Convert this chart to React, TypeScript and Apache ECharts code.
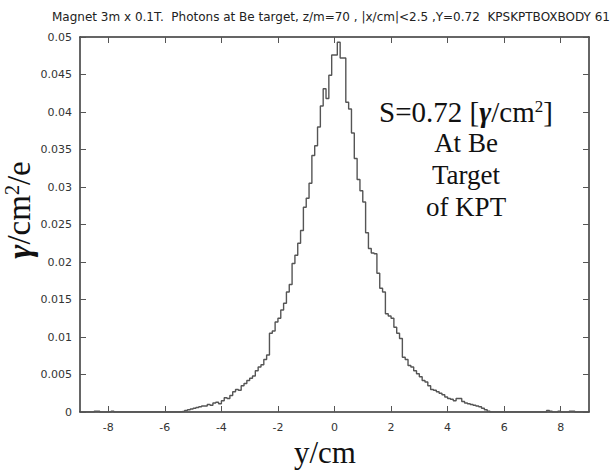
import React, { useEffect, useRef } from "react";
import * as echarts from "echarts";

// Histogram: bins of width 0.1 cm starting at y = -9.0 cm; values in units of 1e-4 photons/cm^2/e
const HIST_START = -9.0;
const HIST_WIDTH = 0.1;
const HIST_UNIT = 1e-4;
const histValues: number[] = [
  0, 0, 0, 0, 0, 1, 1, 0, 0, 0,
  0, 1, 0, 0, 0, 0, 0, 0, 0, 0,
  0, 0, 0, 0, 0, 0, 0, 0, 0, 0,
  0, 0, 0, 0, 0, 0.5, 1, 2, 3, 4,
  5, 6, 7, 8, 8, 10, 9, 12, 13, 11,
  15, 19, 18, 22, 27, 30, 29, 35, 38, 42,
  45, 48, 55, 60, 63, 70, 76, 105, 108, 120,
  125, 136, 145, 160, 170, 198, 209, 225, 242, 273,
  285, 305, 342, 355, 380, 408, 431, 418, 449, 476,
  476, 493, 472, 472, 413, 404, 372, 338, 310, 295,
  280, 239, 218, 212, 211, 185, 165, 160, 131, 128,
  125, 113, 105, 98, 73, 70, 62, 60, 55, 51,
  47, 42, 40, 35, 30, 29, 27, 25, 23, 20,
  18, 17, 15, 18, 18, 14, 12, 11, 10, 9,
  8, 7, 5, 3, 1, 0, 0, 0, 0, 0,
  0, 0, 0, 0, 0, 0, 0, 0, 0, 0,
  0, 0, 0, 0, 0, 2, 1, 0, 0, 1,
  0, 0, 0, 1, 1, 0, 0, 0, 0, 0,
];

const xTicks = [-8, -6, -4, -2, 0, 2, 4, 6, 8];
const X_MIN = -9;
const X_MAX = 9;
const Y_MIN = 0;
const Y_MAX = 0.05;
const Y_STEP = 0.005;

const TITLE =
  "Magnet 3m x 0.1T.  Photons at Be target, z/m=70 , |x/cm|<2.5 ,Y=0.72  KPSKPTBOXBODY 61";
const noteLines = ["At Be", "Target", "of KPT"];

export default function App() {
  const ref = useRef<HTMLDivElement>(null);

  useEffect(() => {
    document.body.style.margin = "0";
    if (!ref.current) return;
    const chart = echarts.init(ref.current, undefined, { renderer: "svg" });

    const data: number[][] = histValues.map((v, i) => [
      +(HIST_START + i * HIST_WIDTH).toFixed(2),
      v * HIST_UNIT,
    ]);
    data.push([X_MAX, histValues[histValues.length - 1] * HIST_UNIT]);

    const axisColor = "#333";
    const serif = "Liberation Serif";
    const sans = "DejaVu Sans";

    const xAxisBase = {
      type: "value",
      min: X_MIN,
      max: X_MAX,
      axisLine: { show: true, onZero: false, lineStyle: { color: axisColor, width: 1.5 } },
      axisTick: {
        show: true,
        inside: true,
        length: 6,
        customValues: xTicks,
        lineStyle: { color: "#555", width: 1 },
      },
      splitLine: { show: false },
    };
    const yAxisBase = {
      type: "value",
      min: Y_MIN,
      max: Y_MAX,
      interval: Y_STEP,
      axisLine: { show: true, onZero: false, lineStyle: { color: axisColor, width: 1.5 } },
      axisTick: { show: true, inside: true, length: 6, lineStyle: { color: "#555", width: 1 } },
      splitLine: { show: false },
    };

    const noteGraphics = noteLines.map((t, i) => ({
      type: "text",
      x: 466,
      y: 143 + i * 32,
      style: {
        text: t,
        font: `27px "${serif}"`,
        fill: "#111",
        align: "center",
        verticalAlign: "middle",
      },
    }));

    chart.setOption({
      animation: false,
      grid: { left: 80, right: 25, top: 37, bottom: 62 },
      xAxis: [
        {
          ...xAxisBase,
          position: "bottom",
          axisLabel: {
            customValues: xTicks,
            fontSize: 11,
            fontFamily: sans,
            color: "#333",
            margin: 10,
          },
        },
        { ...xAxisBase, position: "top", axisLabel: { show: false } },
      ],
      yAxis: [
        {
          ...yAxisBase,
          position: "left",
          axisLabel: { fontSize: 11, fontFamily: sans, color: "#333", margin: 8 },
        },
        { ...yAxisBase, position: "right", axisLabel: { show: false } },
      ],
      series: [
        {
          type: "line",
          step: "end",
          data,
          showSymbol: false,
          xAxisIndex: 0,
          yAxisIndex: 0,
          lineStyle: { color: "#555", width: 1.4 },
        },
      ],
      graphic: [
        {
          type: "text",
          x: 331,
          y: 17,
          style: {
            text: TITLE,
            font: `12px "${sans}"`,
            fill: "#222",
            align: "center",
            verticalAlign: "middle",
          },
        },
        {
          type: "text",
          x: 325,
          y: 452,
          style: {
            text: "y/cm",
            font: `31px "${serif}"`,
            fill: "#111",
            align: "center",
            verticalAlign: "middle",
          },
        },
        {
          type: "text",
          x: 19,
          y: 210,
          rotation: Math.PI / 2,
          style: {
            text: "{g|γ}{n|/cm}{s|2}{n|/e}",
            align: "center",
            verticalAlign: "middle",
            fill: "#111",
            rich: {
              g: { fontFamily: serif, fontSize: 34, fontWeight: "bold", fontStyle: "italic", fill: "#111" },
              n: { fontFamily: serif, fontSize: 33, fill: "#111" },
              s: { fontFamily: serif, fontSize: 20, fill: "#111", verticalAlign: "top" },
            },
          },
        },
        {
          type: "text",
          x: 466,
          y: 112,
          style: {
            text: "{n|S=0.72 [}{g|γ}{n|/cm}{s|2}{n|]}",
            align: "center",
            verticalAlign: "middle",
            fill: "#111",
            rich: {
              g: { fontFamily: serif, fontSize: 29, fontWeight: "bold", fontStyle: "italic", fill: "#111" },
              n: { fontFamily: serif, fontSize: 29, fill: "#111" },
              s: { fontFamily: serif, fontSize: 17, fill: "#111", verticalAlign: "top" },
            },
          },
        },
        ...noteGraphics,
      ],
    });

    return () => chart.dispose();
  }, []);

  return <div ref={ref} style={{ width: 614, height: 474 }} />;
}
